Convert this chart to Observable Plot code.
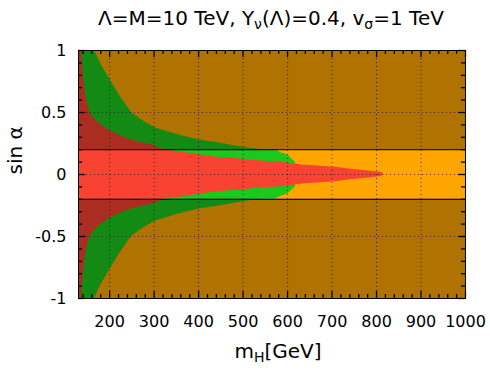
<!DOCTYPE html>
<html><head><meta charset="utf-8">
<script src="https://cdn.jsdelivr.net/npm/d3@7"></script>
<script src="https://cdn.jsdelivr.net/npm/@observablehq/plot@0.6"></script>
<style>
body{margin:0;background:#fff;font-family:"DejaVu Sans",sans-serif;color:#000;}
#wrap{position:relative;width:490px;height:373px;overflow:hidden;}
#title{position:absolute;left:71px;width:400px;top:8px;text-align:center;font-size:20px;line-height:20px;white-space:nowrap;}
#xlabel{position:absolute;left:178px;width:200px;top:341px;text-align:center;font-size:20px;line-height:20px;white-space:nowrap;}
sub{font-size:70%;line-height:0;vertical-align:-0.3em;}
#chart{position:absolute;left:0;top:0;}
</style></head>
<body>
<div id="wrap">
  <div id="chart"></div>
  <div id="title">Λ=M=10 TeV, Y<sub>ν</sub>(Λ)=0.4, v<sub>σ</sub>=1 TeV</div>
  <div id="xlabel">m<sub>H</sub>[GeV]</div>
</div>
<script>
// ---- data ----
const xDomain = [130, 1000];
const yDomain = [-1, 1];
const xTicks = [200, 300, 400, 500, 600, 700, 800, 900, 1000];
const yTicks = [-1, -0.5, 0, 0.5, 1];
const xGrid = [200, 300, 400, 500, 600, 700, 800, 900];
const yGrid = [-0.5, 0, 0.5];
const bandEdge = 0.2;

// red region: |sin α| below redS at each m_H
const redM = [130, 137, 139, 142, 146, 155, 172, 192, 213, 238, 264, 298, 320, 359, 404, 442, 479, 517, 556, 593, 631, 668, 706, 743, 781, 811, 816];
const redS = [1, 1, 0.88, 0.77, 0.64, 0.5, 0.425, 0.372, 0.331, 0.29, 0.264, 0.238, 0.2, 0.184, 0.157, 0.139, 0.13, 0.117, 0.104, 0.096, 0.077, 0.069, 0.058, 0.042, 0.028, 0.017, 0];

// green region: |sin α| below greenS at each m_H
const greenM = [130, 166, 182, 200, 222, 249, 278, 305, 355, 404, 442, 479, 517, 540, 572, 585, 601, 612, 618];
const greenS = [1, 1, 0.88, 0.77, 0.64, 0.5, 0.425, 0.372, 0.318, 0.277, 0.256, 0.232, 0.21, 0.2, 0.2, 0.176, 0.157, 0.117, 0.096];

const colOrange = "#FFA500", colGreen = "#1CC81C", colRed = "#F84232";

// ---- layout ----
const W = 490, H = 373, mL = 78, mR = 25, mT = 50, mB = 75;
const frameW = W - mL - mR, frameH = H - mT - mB;
const majorLen = 7, minorLen = 4;

// ---- build ----
const red = redM.map((m, i) => ({m, s: redS[i]}));
const green = greenM.map((m, i) => ({m, s: greenS[i]}));
const outer = [{y1: bandEdge, y2: yDomain[1]}, {y1: yDomain[0], y2: -bandEdge}];
const xMinor = d3.range(140, 1000, 20).filter(v => v % 100 !== 0);
const yMinor = d3.range(-9, 10).map(i => i / 10).filter(v => Math.abs(v * 2 - Math.round(v * 2)) > 1e-9);

const tickStyle = {stroke: "black", strokeWidth: 1.3};

const plot = Plot.plot({
  width: W, height: H,
  marginLeft: mL, marginRight: mR, marginTop: mT, marginBottom: mB,
  x: {domain: xDomain},
  y: {domain: yDomain},
  style: {fontFamily: "DejaVu Sans", fontSize: "16px", color: "#000", background: "transparent"},
  marks: [
    Plot.frame({fill: colOrange, stroke: null}),
    Plot.areaY(green, {x: "m", y1: d => -d.s, y2: "s", fill: colGreen}),
    Plot.areaY(red, {x: "m", y1: d => -d.s, y2: "s", fill: colRed}),
    Plot.rect(outer, {y1: "y1", y2: "y2", fill: "black", fillOpacity: 0.31}),
    Plot.gridX(xGrid, {stroke: "black", strokeOpacity: 0.7, strokeDasharray: "1,3"}),
    Plot.gridY(yGrid, {stroke: "black", strokeOpacity: 0.7, strokeDasharray: "1,3"}),
    Plot.ruleY([-bandEdge, bandEdge], {stroke: "black", strokeOpacity: 0.85, strokeWidth: 1.3}),
    // inward ticks (bottom, top, left, right)
    Plot.tickX(xTicks, {x: d => d, insetTop: frameH - majorLen, ...tickStyle}),
    Plot.tickX(xMinor, {x: d => d, insetTop: frameH - minorLen, ...tickStyle}),
    Plot.tickX(xTicks, {x: d => d, insetBottom: frameH - majorLen, ...tickStyle}),
    Plot.tickX(xMinor, {x: d => d, insetBottom: frameH - minorLen, ...tickStyle}),
    Plot.tickY(yTicks, {y: d => d, insetRight: frameW - majorLen, ...tickStyle}),
    Plot.tickY(yMinor, {y: d => d, insetRight: frameW - minorLen, ...tickStyle}),
    Plot.tickY(yTicks, {y: d => d, insetLeft: frameW - majorLen, ...tickStyle}),
    Plot.tickY(yMinor, {y: d => d, insetLeft: frameW - minorLen, ...tickStyle}),
    // labels
    Plot.axisX(xTicks, {anchor: "bottom", tickSize: 0, tickPadding: 17, label: null, tickFormat: d => String(d)}),
    Plot.axisY(yTicks, {anchor: "left", tickSize: 0, tickPadding: 12, label: null, tickFormat: d => String(d)}),
    Plot.text(["sin α"], {text: d => d, frameAnchor: "left", rotate: -90, dx: -63, fontSize: 20}),
    Plot.frame({stroke: "black", strokeWidth: 1})
  ]
});
document.getElementById("chart").appendChild(plot);
</script>
</body></html>
